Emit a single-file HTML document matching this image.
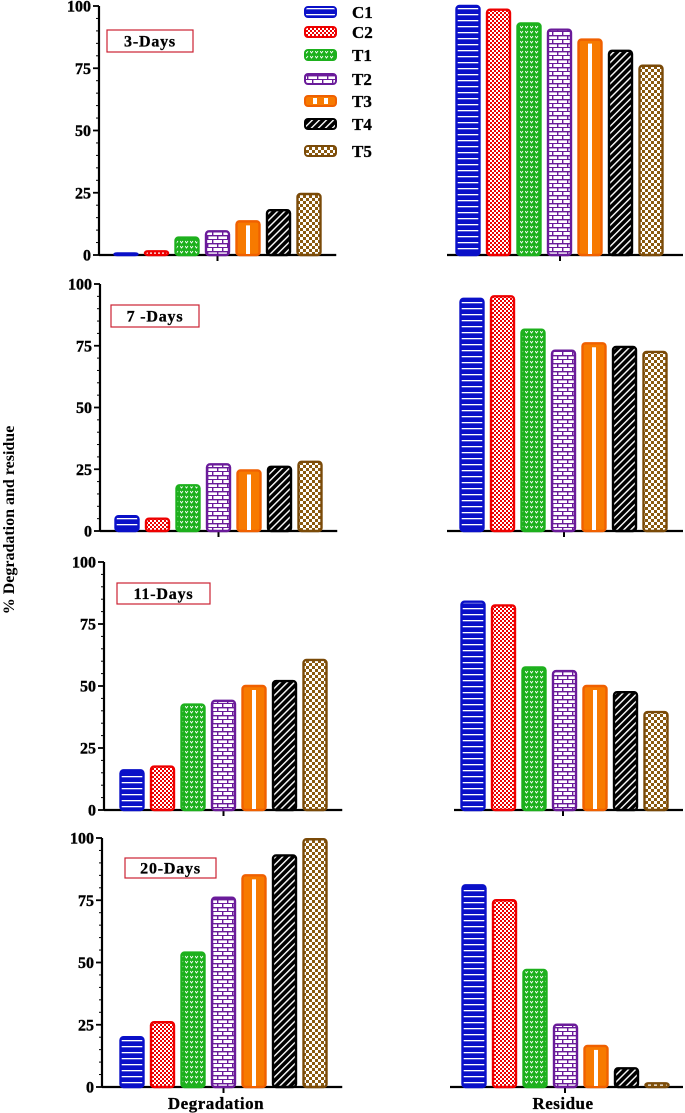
<!DOCTYPE html>
<html><head><meta charset="utf-8"><style>
html,body{margin:0;padding:0;background:#fff}
svg{display:block}
text{font-family:"Liberation Serif",serif;font-weight:bold}
</style></head><body>
<svg id="chart" width="685" height="1113" viewBox="0 0 685 1113" xmlns="http://www.w3.org/2000/svg">
<defs>
<pattern id="p0" width="6" height="6" patternUnits="userSpaceOnUse"><rect width="6" height="6" fill="#0a10c8"/><rect y="2" width="6" height="1.3" fill="#fff"/></pattern>
<pattern id="p1" width="4" height="4" patternUnits="userSpaceOnUse"><rect width="4" height="4" fill="#fff"/><rect width="2" height="2" fill="#e00"/><rect x="2" y="2" width="2" height="2" fill="#e00"/></pattern>
<pattern id="p2" width="5" height="5" patternUnits="userSpaceOnUse"><rect width="5" height="5" fill="#1db01d"/><path d="M0 1 L1.5 3 L3 1" stroke="#fff" stroke-width="0.9" fill="none"/></pattern>
<pattern id="p3" width="10" height="8" patternUnits="userSpaceOnUse"><rect width="10" height="8" fill="#fff"/><rect y="3" width="10" height="1.4" fill="#6a1b9a"/><rect y="7" width="10" height="1.4" fill="#6a1b9a"/><rect x="2" width="1.4" height="4" fill="#6a1b9a"/><rect x="7" y="4" width="1.4" height="4" fill="#6a1b9a"/></pattern>
<pattern id="p4" width="24" height="10" patternUnits="userSpaceOnUse"><rect width="24" height="10" fill="#f77a00"/></pattern>
<pattern id="p5" width="5" height="5" patternUnits="userSpaceOnUse" patternTransform="rotate(45)"><rect width="5" height="5" fill="#000"/><rect x="0" width="1.4" height="5" fill="#fff"/></pattern>
<pattern id="p6" width="6" height="6" patternUnits="userSpaceOnUse"><rect width="6" height="6" fill="#fff"/><rect width="3" height="3" fill="#8a5a10"/><rect x="3" y="3" width="3" height="3" fill="#8a5a10"/></pattern>
</defs>
<g id="root"></g>
</svg>
<script>
const series = ["C1","C2","T1","T2","T3","T4","T5"];
const panelLabels = ["3-Days","7 -Days","11-Days","20-Days"];
const yTicks = [0,25,50,75,100];
const degradation = [
 [0.5,1.5,7,9.5,13.5,18,24.5],
 [6,5,18.5,27,24.5,26,28],
 [16,17.5,42.5,44,50,52,60.5],
 [20,26,54,76,85,93,99.5]
];
const residue = [
 [100,98.5,93,90.5,86.5,82,76],
 [94,95,81.5,73,76,74.5,72.5],
 [84,82.5,57.5,56,50,47.5,39.5],
 [81,75,47,25,16.5,7.5,1.5]
];
const colors=["#0a10c8","#e00","#1db01d","#6a1b9a","#f06000","#000","#7a4a08"];
const NS="http://www.w3.org/2000/svg";
const root=document.getElementById('root');
function el(t,a,p){const e=document.createElementNS(NS,t);for(const k in a)e.setAttribute(k,a[k]);(p||root).appendChild(e);return e;}
const layout=[
 {top:6,bot:255,ax:99,c0:126,rc0:468,rbl:447,rt:560,box:[107,30,86,22]},
 {top:284,bot:531,ax:100,c0:127,rc0:472,rbl:447,rt:564,box:[111,305,88,22]},
 {top:562,bot:810,ax:104,c0:132,rc0:473,rbl:454,rt:563,box:[117,583,93,21]},
 {top:838,bot:1087,ax:102,c0:132,rc0:474,rbl:450,rt:565,box:[125,858,91,20]}
];
const sp=30.5,bw=23;
layout.forEach((L,pi)=>{
 const g=el('g',{});
 
 
 const y=v=>L.bot-(L.bot-L.top)*v/100;
 const ya=el('line',{x1:L.ax,y1:L.top,x2:L.ax,y2:L.bot,stroke:'#000','stroke-width':2.2},g);
 
 
 for(let v=0;v<=100;v+=5){const major=v%25===0;el('line',{x1:L.ax-(major?6:3),y1:y(v),x2:L.ax,y2:y(v),stroke:'#000','stroke-width':major?1.8:1},g);}
 yTicks.forEach(v=>{const t=el('text',{x:L.ax-8,y:y(v)+5.5,'text-anchor':'end','font-size':16,stroke:'#000','stroke-width':0.4},g);t.textContent=v;
  
  });
 const lx=el('line',{x1:L.ax,y1:L.bot,x2:L.c0+6*sp+sp/2+12,y2:L.bot,stroke:'#000','stroke-width':2.2},g);
 
 
 el('line',{x1:L.c0+3*sp,y1:L.bot,x2:L.c0+3*sp,y2:L.bot+6,stroke:'#000','stroke-width':2},g);
 const rx=el('line',{x1:L.rbl,y1:L.bot,x2:683,y2:L.bot,stroke:'#000','stroke-width':2.2},g);
 
 
 el('line',{x1:L.rt,y1:L.bot,x2:L.rt,y2:L.bot+6,stroke:'#000','stroke-width':2},g);
 [[degradation[pi],L.c0,'degradation'],[residue[pi],L.rc0,'residue']].forEach(([vals,c0,nm])=>{
  vals.forEach((v,i)=>{
   const cx=c0+i*sp,yt=y(v),h=Math.max(L.bot-yt,1.5);
   const r=el('rect',{x:cx-bw/2,y:L.bot-h,width:bw,height:h,rx:3,fill:'url(#p'+i+')',stroke:colors[i],'stroke-width':2.4},g);
   
   
   if(i===4&&h>6){el('rect',{x:cx-2,y:L.bot-h+4,width:4,height:h-5,fill:'#fff'},g);}
  });
 });
 const b=L.box;
 const bx=el('rect',{x:b[0],y:b[1],width:b[2],height:b[3],fill:'#fff',stroke:'#c23',"stroke-width":1.2},g);
 
 
 const lt=el('text',{x:b[0]+b[2]/2,y:b[1]+b[3]/2+5.5,'text-anchor':'middle','font-size':16,'letter-spacing':0.8,stroke:'#000','stroke-width':0.3},g);
 lt.textContent=panelLabels[pi];
 
 
});
const legY=[12,32,55,79,101,124,151];
const lg=el('g',{});


series.forEach((s,i)=>{
 const r=el('rect',{x:305,y:legY[i]-5,width:31,height:10,rx:3,fill:'url(#p'+i+')',stroke:colors[i],'stroke-width':2},lg);
 
 
 if(i===4){el('rect',{x:313,y:legY[i]-3,width:4,height:6,fill:'#fff'},lg);el('rect',{x:324,y:legY[i]-3,width:4,height:6,fill:'#fff'},lg);}
 const t=el('text',{x:352,y:legY[i]+6,'font-size':17,stroke:'#000','stroke-width':0.3},lg);t.textContent=s;
 
 
});
const yt=el('text',{x:0,y:0,'font-size':16,'text-anchor':'middle',transform:'translate(14,520) rotate(-90)'});
yt.textContent='% Degradation and residue';


const x1=el('text',{x:216,y:1109,'font-size':17,'text-anchor':'middle','letter-spacing':0.5,stroke:'#000','stroke-width':0.3});x1.textContent='Degradation';


const x2=el('text',{x:563,y:1109,'font-size':17,'text-anchor':'middle','letter-spacing':0.5,stroke:'#000','stroke-width':0.3});x2.textContent='Residue';


</script>
</body></html>
